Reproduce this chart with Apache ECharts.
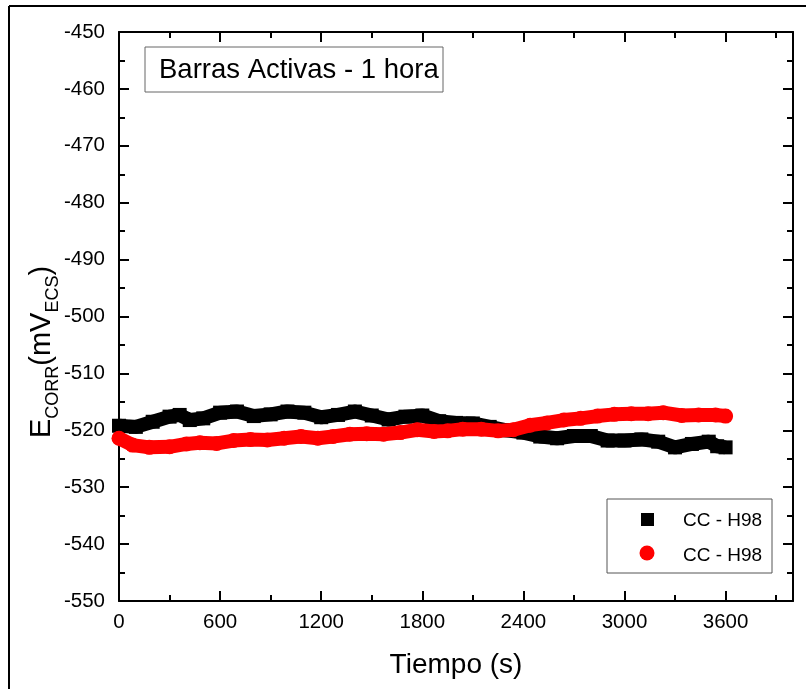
<!DOCTYPE html>
<html>
<head>
<meta charset="utf-8">
<script src="https://cdn.jsdelivr.net/npm/echarts@6/dist/echarts.min.js"></script>
<style>
  html, body { margin: 0; padding: 0; background: #fff; }
  #chart { width: 806px; height: 689px; }
</style>
</head>
<body>
<div id="chart"></div>
<script>
// Open-circuit potential of active bars over one hour
const timeBlack = [0, 100, 200, 300, 360, 420, 500, 600, 700, 800, 900, 1000, 1100, 1200, 1300, 1400, 1500, 1600, 1700, 1800, 1900, 2000, 2100, 2200, 2300, 2400, 2500, 2600, 2700, 2800, 2900, 3000, 3100, 3200, 3300, 3400, 3500, 3550, 3600];
const ecorrBlack = [-519.2, -519.4, -518.5, -517.6, -517.3, -518.2, -517.9, -516.9, -516.7, -517.5, -517.2, -516.7, -516.9, -517.7, -517.3, -516.7, -517.4, -518.1, -517.6, -517.4, -518.4, -518.7, -518.8, -519.4, -520.0, -520.4, -521.1, -521.4, -521.0, -521.0, -521.8, -521.8, -521.6, -522.0, -523.0, -522.4, -522.0, -522.8, -523.0];

const timeRed = [0, 80, 180, 300, 400, 480, 580, 680, 780, 880, 980, 1080, 1180, 1270, 1370, 1470, 1570, 1670, 1770, 1870, 1950, 2040, 2150, 2250, 2340, 2440, 2540, 2640, 2740, 2840, 2940, 3040, 3140, 3230, 3340, 3440, 3540, 3600];
const ecorrRed = [-521.4, -522.6, -523.0, -522.9, -522.4, -522.2, -522.3, -521.8, -521.6, -521.7, -521.4, -521.1, -521.4, -521.1, -520.7, -520.6, -520.7, -520.4, -519.9, -520.2, -520.1, -519.8, -519.8, -520.1, -519.9, -519.1, -518.7, -518.2, -517.9, -517.5, -517.2, -517.1, -517.1, -516.9, -517.4, -517.3, -517.3, -517.5];

const seriesName = 'CC - H98';
const panelTitle = 'Barras Activas - 1 hora';
const xTitle = 'Tiempo (s)';
const yTitle = '{a|E}{b|CORR}{a|(mV}{b|ECS}{a|)}';

const xMin = 0, xMax = 4000, xStep = 600;
const yMin = -550, yMax = -450, yStep = 10;

const font = '"Liberation Sans", Arial, sans-serif';

function pairs(xs, ys) {
  return xs.map((x, i) => [x, ys[i]]);
}

const chart = echarts.init(document.getElementById('chart'), null, { renderer: 'canvas' });

// frame axes: ticks point into the plot, no crossing at zero
const axisLine = { show: true, onZero: false, lineStyle: { color: '#000', width: 2 } };
const tick = { show: true, inside: true, length: 10, lineStyle: { color: '#000', width: 2 } };
const minor = { show: true, splitNumber: 2, length: 6, lineStyle: { color: '#000', width: 2 } };

const xBase = {
  type: 'value', min: xMin, max: xMax, interval: xStep,
  axisLine: axisLine, axisTick: tick, minorTick: minor,
  splitLine: { show: false }, minorSplitLine: { show: false }
};
const yBase = {
  type: 'value', min: yMin, max: yMax, interval: yStep,
  axisLine: axisLine, axisTick: tick, minorTick: minor,
  splitLine: { show: false }, minorSplitLine: { show: false }
};

chart.setOption({
  animation: false,
  backgroundColor: '#fff',
  grid: { left: 119, right: 13, top: 32, bottom: 88, containLabel: false },
  xAxis: [
    Object.assign({}, xBase, {
      position: 'bottom',
      axisLabel: {
        show: true, color: '#000', fontFamily: font, fontSize: 20.5, margin: 11,
        formatter: v => (v % xStep === 0 && v <= 3600) ? String(v) : ''
      },
      name: xTitle, nameLocation: 'middle', nameGap: 50,
      nameTextStyle: { color: '#000', fontFamily: font, fontSize: 28 }
    }),
    Object.assign({}, xBase, { position: 'top', axisLabel: { show: false } })
  ],
  yAxis: [
    Object.assign({}, yBase, {
      position: 'left',
      axisLabel: { show: true, color: '#000', fontFamily: font, fontSize: 20.5, margin: 14 }
    }),
    Object.assign({}, yBase, { position: 'right', axisLabel: { show: false } })
  ],
  series: [
    {
      name: seriesName, type: 'line', xAxisIndex: 0, yAxisIndex: 0,
      data: pairs(timeBlack, ecorrBlack),
      symbol: 'rect', symbolSize: 14, showSymbol: true,
      itemStyle: { color: '#000' },
      lineStyle: { color: '#000', width: 14, join: 'round' },
      clip: true, z: 2
    },
    {
      name: seriesName, type: 'line', xAxisIndex: 0, yAxisIndex: 0,
      data: pairs(timeRed, ecorrRed),
      symbol: 'circle', symbolSize: 15, showSymbol: true,
      itemStyle: { color: '#ff0000' },
      lineStyle: { color: '#ff0000', width: 14, join: 'round', cap: 'round' },
      clip: true, z: 3
    }
  ],
  graphic: [
    // outer figure frame
    { type: 'line', shape: { x1: 9, y1: 6, x2: 806, y2: 6 }, style: { stroke: '#000', lineWidth: 2 }, z: 10 },
    { type: 'line', shape: { x1: 9, y1: 6, x2: 9, y2: 689 }, style: { stroke: '#000', lineWidth: 2 }, z: 10 },
    // y axis title with subscripts
    {
      type: 'text', x: 40, y: 352, rotation: Math.PI / 2, z: 11,
      style: {
        text: yTitle, align: 'center', verticalAlign: 'middle', fill: '#000',
        rich: {
          a: { fontSize: 29, fontFamily: font, fill: '#000', lineHeight: 32, verticalAlign: 'bottom' },
          b: { fontSize: 18, fontFamily: font, fill: '#000', lineHeight: 18, verticalAlign: 'bottom', padding: [0, 0, -6, 0] }
        }
      }
    },
    // panel title box
    { type: 'rect', shape: { x: 145, y: 47, width: 298, height: 45 }, style: { fill: '#fff', stroke: '#666', lineWidth: 1 }, z: 10 },
    { type: 'text', x: 159, y: 70, style: { text: panelTitle, fill: '#000', font: '27.5px ' + font, textVerticalAlign: 'middle' }, z: 11 },
    // key
    { type: 'rect', shape: { x: 607, y: 499, width: 165, height: 74 }, style: { fill: '#fff', stroke: '#555', lineWidth: 1 }, z: 10 },
    { type: 'rect', shape: { x: 641, y: 513, width: 13, height: 13 }, style: { fill: '#000' }, z: 11 },
    { type: 'circle', shape: { cx: 647, cy: 553, r: 7.5 }, style: { fill: '#ff0000' }, z: 11 },
    { type: 'text', x: 683, y: 521, style: { text: seriesName, fill: '#000', font: '19px ' + font, textVerticalAlign: 'middle' }, z: 11 },
    { type: 'text', x: 683, y: 556, style: { text: seriesName, fill: '#000', font: '19px ' + font, textVerticalAlign: 'middle' }, z: 11 }
  ]
});
</script>
</body>
</html>
